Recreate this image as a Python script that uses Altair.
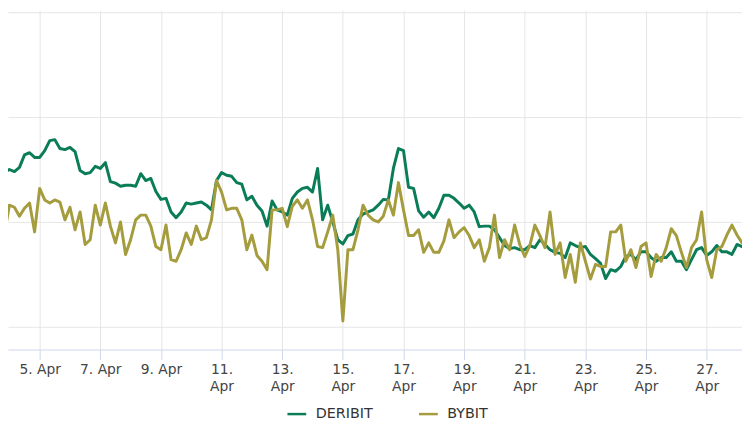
import altair as alt
import pandas as pd

# ---- data (4-hourly samples starting 3 Apr 16:00) ----
start_time = "2024-04-03T16:00:00"
step = "4h"
series_names = ["DERIBIT", "BYBIT"]
series_colors = ["#0a7d58", "#a59c3e"]

deribit = [
    69.4, 69.4, 70.0, 69.6, 70.4, 72.8, 73.2, 72.3, 72.3, 73.6,
    75.5, 75.7, 74.0, 73.8, 74.2, 73.4, 69.8, 69.2, 69.4, 70.6,
    70.2, 71.3, 67.7, 67.4, 66.8,
    67.0, 67.0, 66.8, 69.2, 67.9, 68.3, 65.8, 64.3, 64.5, 61.9,
    60.8, 61.9, 63.6, 63.4, 63.6, 63.8, 63.2, 62.3, 67.9, 69.4,
    68.9, 68.7, 67.5, 67.2, 64.2,
    64.9, 63.2, 62.1, 59.2, 64.0, 62.3, 61.9, 61.3, 64.5, 65.7,
    66.4, 66.6, 65.7, 70.2, 60.4, 63.2, 60.0, 56.6, 55.8, 57.4,
    57.7, 60.4, 61.5, 61.9,
    62.3, 63.2, 64.3, 64.2, 70.2, 74.0, 73.6, 66.6, 66.4, 62.1,
    60.9, 61.9, 60.8, 62.6, 65.1, 65.1, 64.5, 63.6, 62.6, 63.2,
    61.9, 59.1, 59.2, 59.2, 58.5,
    57.0, 55.5, 54.9, 55.1, 54.7, 54.7, 55.5, 55.1, 56.6, 55.7,
    54.7, 54.2, 54.0, 53.2, 56.0, 55.5, 55.1, 55.3, 53.8, 53.0,
    52.1, 49.2, 50.9, 50.6,
    51.5, 53.4, 53.8, 52.8, 54.3, 54.3, 53.2, 52.5, 53.2, 53.2,
    54.3, 52.5, 52.5, 50.9, 52.8, 54.7, 55.1, 53.6, 54.3, 55.5,
    54.3, 54.3, 53.8, 55.7, 55.3, 54.7,
]

bybit = [
    61.9, 57.5, 63.2, 62.8, 61.1, 62.6, 63.6, 58.1, 66.4, 64.2,
    63.6, 64.2, 63.8, 60.4, 62.8, 58.5, 61.9, 55.7, 56.6, 63.2,
    59.4, 63.6, 59.2, 56.0, 60.0,
    53.8, 56.6, 60.4, 61.3, 61.3, 59.2, 55.3, 54.7, 59.4, 52.8,
    52.5, 54.7, 57.9, 55.7, 59.2, 56.6, 57.0, 60.4, 67.9, 65.7,
    62.3, 62.6, 62.6, 60.4, 54.7,
    57.5, 53.6, 52.5, 50.9, 62.3, 62.3, 62.6, 59.1, 63.0, 64.2,
    62.6, 64.2, 60.4, 55.3, 55.1, 58.1, 61.3, 54.7, 41.1, 54.7,
    54.7, 58.5, 63.2, 61.3,
    60.4, 60.0, 61.1, 64.2, 61.3, 67.5, 62.3, 57.4, 57.4, 58.5,
    54.2, 56.0, 54.2, 54.2, 56.4, 60.4, 57.0, 58.1, 58.9, 57.4,
    55.1, 56.6, 52.5, 55.1, 61.3,
    53.2, 56.6, 54.7, 59.4, 55.7, 53.4, 55.5, 59.4, 57.4, 55.1,
    61.9, 53.8, 56.0, 49.4, 53.8, 48.5, 56.0, 52.5, 49.1, 51.9,
    51.5, 51.5, 58.1, 58.1,
    59.4, 52.5, 54.7, 51.3, 55.3, 56.0, 49.6, 53.8, 52.5, 55.1,
    58.7, 57.4, 54.2, 51.3, 55.1, 56.6, 61.9, 52.8, 49.4, 54.7,
    55.3, 57.5, 59.4, 57.5, 56.0, 55.3,
]

tick_days = [5, 7, 9, 11, 13, 15, 17, 19, 21, 23, 25, 27]
grid_values = [40, 60, 80, 100]

# ---- build table ----
times = pd.date_range(start_time, periods=len(deribit), freq=step)
rows = []
for name, vals in zip(series_names, [deribit, bybit]):
    for t, v in zip(times, vals):
        rows.append({"time": t.strftime("%Y-%m-%dT%H:%M:%S"), "series": name, "value": v})
df = pd.DataFrame(rows)

x_domain = [
    alt.DateTime(year=2024, month=4, date=3, hours=22, minutes=56),
    alt.DateTime(year=2024, month=4, date=28, hours=3, minutes=58),
]

label_expr = ("date(datum.value) >= 10 ? [date(datum.value) + '.', 'Apr'] "
              ": date(datum.value) + '. Apr'")

chart = alt.Chart(df).mark_line(
    strokeWidth=3, clip=True, strokeJoin="round", strokeCap="round"
).encode(
    x=alt.X(
        "time:T",
        scale=alt.Scale(domain=x_domain),
        axis=alt.Axis(
            values=[alt.DateTime(year=2024, month=4, date=d) for d in tick_days],
            labelExpr=label_expr,
            title=None,
            grid=True,
            gridColor="#e6e6e6",
            domainColor="#ccd6eb",
            tickColor="#ccd6eb",
            tickSize=10,
            labelFont="DejaVu Sans",
            labelFontSize=14,
            labelColor="#444444",
            labelLineHeight=17,
            labelPadding=3,
            labelFlush=False,
            labelOverlap=False,
        ),
    ),
    y=alt.Y(
        "value:Q",
        scale=alt.Scale(domain=[35.66, 100.38], nice=False, zero=False),
        axis=alt.Axis(
            values=grid_values,
            labels=False,
            ticks=False,
            domain=False,
            grid=True,
            gridColor="#e6e6e6",
            title=None,
        ),
    ),
    color=alt.Color(
        "series:N",
        scale=alt.Scale(domain=series_names, range=series_colors),
        legend=alt.Legend(
            title=None,
            orient="none",
            direction="horizontal",
            legendX=281,
            legendY=397,
            symbolType="stroke",
            symbolSize=361,
            symbolStrokeWidth=2.5,
            labelFont="DejaVu Sans",
            labelFontSize=14.5,
            labelColor="#333333",
            labelOffset=8,
            columnPadding=41,
            padding=0,
        ),
    ),
).properties(
    width=742,
    height=343,
    autosize=alt.AutoSizeParams(type="none"),
    padding={"left": 0, "top": 0, "right": 0, "bottom": 71},
).configure_view(stroke=None)

chart.save("out.html", embed_options={"renderer": "svg", "actions": False})
